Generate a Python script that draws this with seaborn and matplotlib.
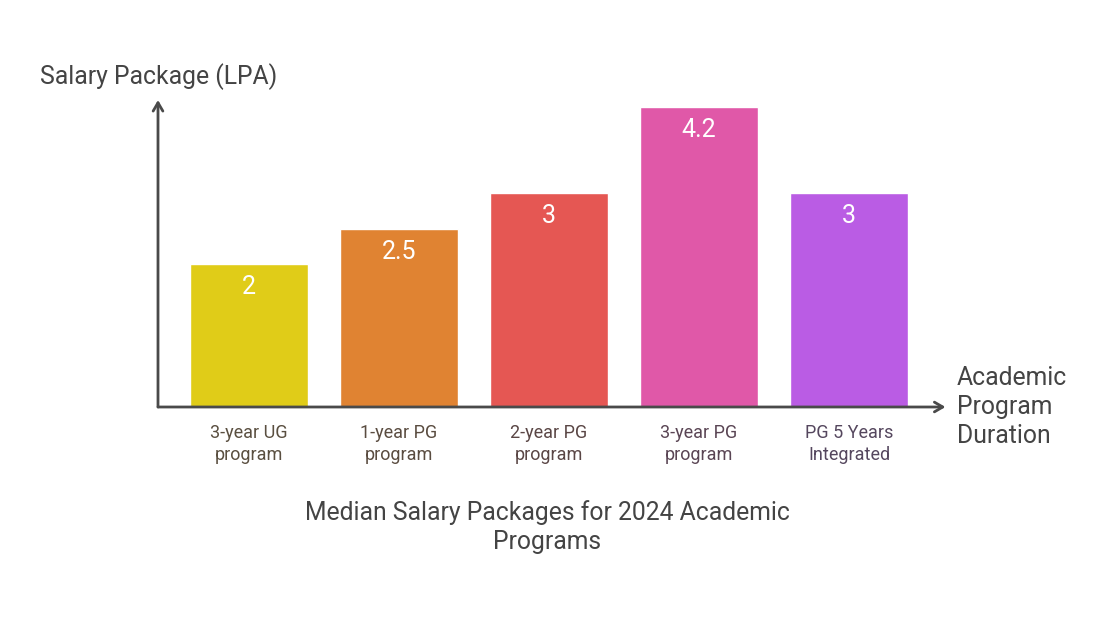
import matplotlib.pyplot as plt
import pandas as pd
import seaborn as sns

sns.set_style("white")
plt.rcParams["font.family"] = ["Roboto", "DejaVu Sans"]

# chart data
programs = [
    "3-year UG\nprogram",
    "1-year PG\nprogram",
    "2-year PG\nprogram",
    "3-year PG\nprogram",
    "PG 5 Years\nIntegrated",
]
salary_lpa = [2, 2.5, 3, 4.2, 3]
value_labels = ["2", "2.5", "3", "4.2", "3"]
bar_colors = ["#E0CC18", "#E08332", "#E55753", "#E058A8", "#BA5CE4"]
tick_colors = ["#5A4F40", "#5A4C40", "#5A4645", "#5A4554", "#55475E"]

df = pd.DataFrame({"program": programs, "salary": salary_lpa})

W, H = 1120, 618
fig = plt.figure(figsize=(W / 100, H / 100), dpi=100)
ax = fig.add_axes([158 / W, (H - 407) / H, (940 - 158) / W, 307 / H])

sns.barplot(
    data=df,
    x="program",
    y="salary",
    hue="program",
    palette=bar_colors,
    width=0.785,
    legend=False,
    saturation=1,
    ax=ax,
)

ax.set_xlim(-0.6067, 4.6067)
ax.set_ylim(0, 4.3)

for p, lab in zip(ax.patches, value_labels):
    ax.annotate(
        lab,
        (p.get_x() + p.get_width() / 2, p.get_height()),
        xytext=(0, -23),
        textcoords="offset pixels",
        ha="center",
        va="center",
        color="white",
        fontsize=18,
    )

for s in ax.spines.values():
    s.set_visible(False)
ax.set_yticks([])
ax.set_xlabel("")
ax.set_ylabel("")
ax.tick_params(axis="x", length=0, pad=12)
ax.set_xticks(range(len(programs)))
ax.set_xticklabels(programs, fontsize=13, linespacing=1.3)
for t, c in zip(ax.get_xticklabels(), tick_colors):
    t.set_color(c)

axis_col = "#4A4A4A"
ax.annotate("", xy=(1.007, 0), xytext=(0, 0), xycoords="axes fraction",
            arrowprops=dict(arrowstyle="->,head_length=0.6,head_width=0.35",
                            color=axis_col, lw=2, shrinkA=0, shrinkB=0))
ax.annotate("", xy=(0, 1.0), xytext=(0, 0), xycoords="axes fraction",
            arrowprops=dict(arrowstyle="->,head_length=0.6,head_width=0.35",
                            color=axis_col, lw=2, shrinkA=0, shrinkB=0))

fig.text(40 / W, 1 - 77 / H, "Salary Package (LPA)", fontsize=17.8,
         color="#444444", ha="left", va="center")
fig.text(957 / W, 1 - 407 / H, "Academic\nProgram\nDuration", fontsize=17.8,
         color="#444444", ha="left", va="center", linespacing=1.28)
fig.text(547 / W, 1 - 527 / H, "Median Salary Packages for 2024 Academic\nPrograms",
         fontsize=17.8, color="#444444", ha="center", va="center", linespacing=1.28)

fig.savefig("out.png", dpi=100, facecolor="white")
